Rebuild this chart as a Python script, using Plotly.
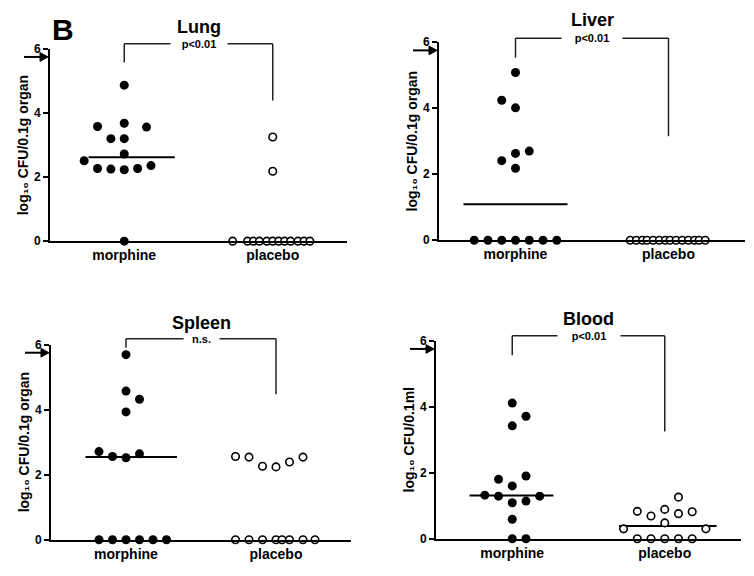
import plotly.graph_objects as go

# ---------------- data ----------------
categories = ["morphine", "placebo"]
tick_values = [0, 2, 4, 6]
tick_labels = ["0", "2", "4", "6"]

# Lung
lung_morphine = [4.87, 3.58, 3.68, 3.56, 3.20, 3.20, 2.72, 2.51, 2.27, 2.25, 2.23, 2.27, 2.36, 0.00]
lung_morphine_jitter = [0.00, -0.18, 0.00, 0.15, -0.09, 0.00, 0.00, -0.27, -0.18, -0.09, 0.00, 0.09, 0.18, 0.00]
lung_placebo = [3.25, 2.18, 0.00, 0.00, 0.00, 0.00, 0.00, 0.00, 0.00, 0.00, 0.00, 0.00, 0.00, 0.00]
lung_placebo_jitter = [0.00, 0.00, -0.27, -0.17, -0.13, -0.09, -0.04, 0.00, 0.04, 0.08, 0.12, 0.17, 0.21, 0.25]
lung_medians = [2.62]

# Liver
liver_morphine = [5.08, 4.24, 4.01, 2.41, 2.63, 2.70, 2.18, 0.00, 0.00, 0.00, 0.00, 0.00, 0.00, 0.00]
liver_morphine_jitter = [0.00, -0.09, 0.00, -0.09, 0.00, 0.09, 0.00, -0.27, -0.18, -0.09, 0.00, 0.09, 0.18, 0.27]
liver_placebo = [0.00, 0.00, 0.00, 0.00, 0.00, 0.00, 0.00, 0.00, 0.00, 0.00, 0.00, 0.00, 0.00, 0.00]
liver_placebo_jitter = [-0.25, -0.21, -0.17, -0.14, -0.10, -0.06, -0.02, 0.01, 0.05, 0.09, 0.13, 0.17, 0.20, 0.24]
liver_medians = [1.09]

# Spleen
spleen_morphine = [5.69, 4.57, 4.32, 3.93, 2.71, 2.56, 2.52, 2.64, 0.00, 0.00, 0.00, 0.00, 0.00, 0.00]
spleen_morphine_jitter = [0.00, 0.00, 0.09, 0.00, -0.18, -0.09, 0.00, 0.09, -0.18, -0.09, 0.00, 0.09, 0.18, 0.27]
spleen_placebo = [2.56, 2.54, 2.26, 2.24, 2.39, 2.54, 0.00, 0.00, 0.00, 0.00, 0.00, 0.00, 0.00, 0.00]
spleen_placebo_jitter = [-0.27, -0.18, -0.09, 0.00, 0.09, 0.18, -0.27, -0.18, -0.09, 0.00, 0.04, 0.09, 0.18, 0.26]
spleen_medians = [2.54]

# Blood
blood_morphine = [4.11, 3.71, 3.42, 1.80, 1.90, 1.60, 1.32, 1.29, 1.09, 1.14, 1.29, 0.59, 0.00, 0.00]
blood_morphine_jitter = [0.00, 0.09, 0.00, -0.09, 0.09, 0.00, -0.18, -0.09, 0.00, 0.09, 0.18, 0.00, 0.00, 0.09]
blood_placebo = [1.26, 0.83, 0.69, 0.89, 0.76, 0.82, 0.48, 0.30, 0.30, 0.00, 0.00, 0.00, 0.00, 0.00]
blood_placebo_jitter = [0.09, -0.18, -0.09, 0.00, 0.09, 0.18, 0.00, -0.27, 0.27, -0.18, -0.09, 0.00, 0.09, 0.18]
blood_medians = [1.31, 0.39]

# ---------------- layout configuration ----------------
FONT = "Liberation Sans, Arial, Helvetica, sans-serif"
W, H = 754, 576

panels = [
    dict(title="Lung", ytitle="log₁₀ CFU/0.1g organ",
         morph=lung_morphine, morph_j=lung_morphine_jitter,
         plac=lung_placebo, plac_j=lung_placebo_jitter,
         medians=lung_medians, median_spans=[(0.76, 1.34)],
         sig="p&lt;0.01", gap=56, bracket=(6.16, 5.58, 4.39),
         xpx=(50, 347), ypx=(240, 43)),
    dict(title="Liver", ytitle="log₁₀ CFU/0.1g organ",
         morph=liver_morphine, morph_j=liver_morphine_jitter,
         plac=liver_placebo, plac_j=liver_placebo_jitter,
         medians=liver_medians, median_spans=[(0.66, 1.34)],
         sig="p&lt;0.01", gap=60, bracket=(6.12, 5.53, 3.15),
         xpx=(439, 745), ypx=(239, 36)),
    dict(title="Spleen", ytitle="log₁₀ CFU/0.1g organ",
         morph=spleen_morphine, morph_j=spleen_morphine_jitter,
         plac=spleen_placebo, plac_j=spleen_placebo_jitter,
         medians=spleen_medians, median_spans=[(0.73, 1.34)],
         sig="n.s.", gap=35, bracket=(6.18, 5.90, 4.47),
         xpx=(51, 351), ypx=(546, 346)),
    dict(title="Blood", ytitle="log₁₀ CFU/0.1ml",
         morph=blood_morphine, morph_j=blood_morphine_jitter,
         plac=blood_placebo, plac_j=blood_placebo_jitter,
         medians=blood_medians, median_spans=[(0.72, 1.27), (1.70, 2.34)],
         sig="p&lt;0.01", gap=62, bracket=(6.15, 5.56, 3.25),
         xpx=(436, 741), ypx=(545, 342)),
]

YMAX = 6.0
ARROW_AT = 5.75

fig = go.Figure()
layout = dict(
    width=W, height=H,
    margin=dict(l=0, r=0, t=0, b=0),
    paper_bgcolor="white", plot_bgcolor="white",
    showlegend=False,
    font=dict(family=FONT, color="black"),
)
shapes = []
annotations = []

for i, p in enumerate(panels):
    n = "" if i == 0 else str(i + 1)
    xr, yr = "x" + n, "y" + n
    xdom = [p["xpx"][0] / W, p["xpx"][1] / W]
    ydom = [1 - p["ypx"][0] / H, 1 - p["ypx"][1] / H]
    wpx = p["xpx"][1] - p["xpx"][0]
    hpx = p["ypx"][0] - p["ypx"][1]

    # median lines
    for med, (a, b) in zip(p["medians"], p["median_spans"]):
        fig.add_trace(go.Scatter(x=[a, b], y=[med, med], mode="lines",
                                 line=dict(color="black", width=2),
                                 xaxis=xr, yaxis=yr, hoverinfo="skip"))

    # morphine (filled)
    fig.add_trace(go.Scatter(
        x=[1 + j for j in p["morph_j"]], y=p["morph"], mode="markers",
        marker=dict(symbol="circle", size=9, color="black",
                    line=dict(width=0)),
        cliponaxis=False, xaxis=xr, yaxis=yr, name="morphine"))
    # placebo (open)
    fig.add_trace(go.Scatter(
        x=[2 + j for j in p["plac_j"]], y=p["plac"], mode="markers",
        marker=dict(symbol="circle", size=7.5, color="white",
                    line=dict(width=1.6, color="black")),
        cliponaxis=False, xaxis=xr, yaxis=yr, name="placebo"))

    layout["xaxis" + n] = dict(
        domain=xdom, anchor=yr, range=[0.5, 2.5],
        tickvals=[1, 2], ticktext=categories, ticks="",
        showline=True, linewidth=2, linecolor="black",
        showgrid=False, zeroline=False,
        tickfont=dict(size=14, family=FONT, weight="bold"))
    layout["yaxis" + n] = dict(
        domain=ydom, anchor=xr, range=[0, YMAX],
        tickvals=tick_values, ticktext=tick_labels,
        ticks="outside", ticklen=5, tickwidth=1.5, tickcolor="black",
        showline=True, linewidth=2, linecolor="black",
        showgrid=False, zeroline=False,
        tickfont=dict(size=12, family=FONT, weight="bold"),
        title=dict(text=p["ytitle"], standoff=2,
                   font=dict(size=14, family=FONT, weight="bold")))

    # significance bracket
    top, lb, rb = p["bracket"]
    line = dict(color="#222", width=1.5)
    shapes.append(dict(type="line", xref=xr, yref=yr + " domain",
                       x0=1, x1=1, y0=lb / YMAX, y1=top / YMAX, line=line))
    shapes.append(dict(type="line", xref=xr, yref=yr + " domain",
                       x0=1, x1=2, y0=top / YMAX, y1=top / YMAX, line=line))
    shapes.append(dict(type="line", xref=xr, yref=yr + " domain",
                       x0=2, x1=2, y0=rb / YMAX, y1=top / YMAX, line=line))
    annotations.append(dict(
        text=p["sig"], xref=xr, yref=yr + " domain", x=1.5, y=top / YMAX,
        showarrow=False, bgcolor="white", width=p["gap"], borderpad=0,
        xanchor="center", yanchor="middle",
        font=dict(size=11, family=FONT, weight="bold")))

    # panel title
    annotations.append(dict(
        text=p["title"], xref=xr + " domain", yref=yr + " domain",
        x=0.5, y=1, yshift=22, showarrow=False,
        xanchor="center", yanchor="middle",
        font=dict(size=18, family=FONT, weight="bold")))

    # arrow at the axis (shaft + head as shapes)
    ay = ARROW_AT / YMAX
    shapes.append(dict(type="line", xref=xr + " domain", yref=yr + " domain",
                       x0=-26 / wpx, x1=-8 / wpx, y0=ay, y1=ay,
                       line=dict(color="black", width=2)))
    hx0, hx1 = -10 / wpx, -2 / wpx
    hh = 4.5 / hpx
    shapes.append(dict(type="path", xref=xr + " domain", yref=yr + " domain",
                       path=f"M {hx0},{ay + hh} L {hx1},{ay} L {hx0},{ay - hh} Z",
                       fillcolor="black", line=dict(color="black", width=1)))

# panel letter
annotations.append(dict(text="B", xref="paper", yref="paper",
                        x=63 / W, y=1 - 23 / H, showarrow=False,
                        xanchor="center", yanchor="middle",
                        font=dict(size=30, family=FONT, weight="bold")))

layout["shapes"] = shapes
layout["annotations"] = annotations
fig.update_layout(**layout)

fig.write_html(
    "out.html",
    config={"displayModeBar": False},
    post_script=(
        "var gd=document.getElementById('{plot_id}');"
        "document.documentElement.style.margin='0px';"
        "document.documentElement.style.overflow='hidden';"
        "document.body.style.margin='0px';"
        "document.body.style.overflow='hidden';"
        "document.body.style.height='576px';"
        "gd.style.position='fixed';gd.style.left='0px';gd.style.top='0px';"
    ),
)
